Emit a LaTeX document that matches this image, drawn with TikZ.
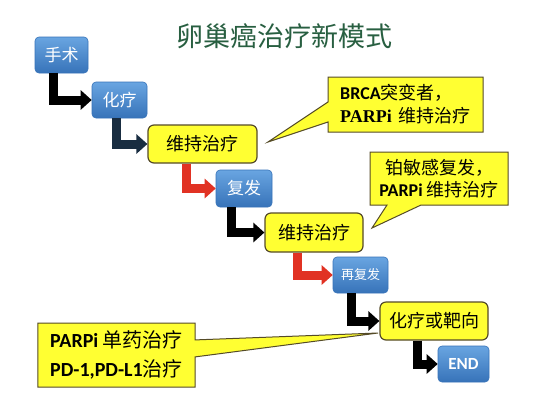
\documentclass[tikz,border=0pt]{standalone}
\usepackage{fontspec}
\setmainfont{Noto Sans CJK SC}
\newfontfamily\lat{Carlito}
\newfontfamily\tms{Liberation Serif}
\usetikzlibrary{arrows.meta,shapes.callouts}

\definecolor{titlegreen}{RGB}{40,95,65}
\definecolor{blutop}{RGB}{105,165,225}
\definecolor{blubot}{RGB}{55,115,185}
\definecolor{yel}{RGB}{255,255,50}
\definecolor{yelline}{RGB}{85,75,40}
\definecolor{arrnavy}{RGB}{25,45,65}
\definecolor{arrred}{RGB}{225,50,35}

\begin{document}
\begin{tikzpicture}[x=1bp,y=-1bp,
    blubox/.style={rounded corners=4bp, top color=blutop, bottom color=blubot,
      draw=blubot, line width=0.6bp, text=white, minimum height=36bp, inner sep=0pt,
      font=\fontsize{17bp}{20bp}\selectfont},
    yelbox/.style={rounded corners=6bp, fill=yel, draw=yelline, line width=1.2bp,
      minimum height=38bp, inner sep=0pt, font=\fontsize{18bp}{20bp}\selectfont},
    note/.style={rectangle callout, fill=yel, draw=yelline, line width=1bp, inner sep=0pt},
    elbow/.style={line width=9bp, line join=miter, -{Triangle[width=19bp,length=11bp]}}]
\useasboundingbox[fill=white] (0,0) rectangle (544,407);

    % title
    \node[text=titlegreen, font=\fontsize{27bp}{30bp}\selectfont] (title) at (284,36) {卵巢癌治疗新模式};

    % steps
    \node[blubox, minimum width=53bp] (shoushu) at (61.5,55) {手术};
    \node[blubox, minimum width=55bp] (hualiao) at (119.5,100) {化疗};
    \node[yelbox, minimum width=109bp] (weichi1) at (202.5,144) {维持治疗};
    \node[blubox, minimum width=56bp, minimum height=37bp] (fufa) at (244,188.5) {复发};
    \node[yelbox, minimum width=98bp, minimum height=39bp] (weichi2) at (314,232.5) {维持治疗};
    \node[blubox, minimum width=55bp, font=\fontsize{13bp}{15bp}\selectfont] (zaifufa) at (360.5,275) {再复发};
    \node[yelbox, minimum width=108bp] (baxiang) at (434,321) {化疗或靶向};
    \node[blubox, minimum width=51bp, font=\fontsize{17bp}{20bp}\lat\bfseries] (jieshu) at (463.5,364) {END};

    % arrows
    \draw[elbow, black] ([xshift=19bp]shoushu.south west) |- (hualiao.west);
    \draw[elbow, arrnavy] ([xshift=25bp]hualiao.south west) |- (weichi1.west);
    \draw[elbow, arrred] ([xshift=39bp]weichi1.south west) |- (fufa.west);
    \draw[elbow, black] ([xshift=16bp]fufa.south west) |- (weichi2.west);
    \draw[elbow, arrred] ([xshift=33bp]weichi2.south west) |- (zaifufa.west);
    \draw[elbow, black] ([xshift=19bp]zaifufa.south west) |- (baxiang.west);
    \draw[elbow, black] ([xshift=38bp]baxiang.south west) |- (jieshu.west);

    % notes
    \node[note, minimum width=155bp, minimum height=55bp, callout pointer width=20bp,
      callout absolute pointer={(268,142)}, align=left,
      font=\fontsize{18bp}{23bp}\selectfont] (brca) at (405.5,104.5)
      {{\lat\bfseries BRCA}突变者，\\ {\tms\bfseries PARPi} \,维持治疗};
    \node[note, minimum width=138bp, minimum height=53bp, callout pointer width=34bp,
      callout absolute pointer={(372,228)}, align=center,
      font=\fontsize{18bp}{22bp}\selectfont] (bomin) at (439,178.5)
      {铂敏感复发，\\{\lat\bfseries PARPi} 维持治疗};
    \node[note, minimum width=157bp, minimum height=64bp, callout pointer width=17bp,
      callout absolute pointer={(378,333)}, align=left,
      font=\fontsize{20bp}{29bp}\selectfont] (danyao) at (116.5,355)
      {{\lat\bfseries PARPi} 单药治疗\\{\lat\bfseries PD-1,PD-L1}治疗};

\end{tikzpicture}
\end{document}
